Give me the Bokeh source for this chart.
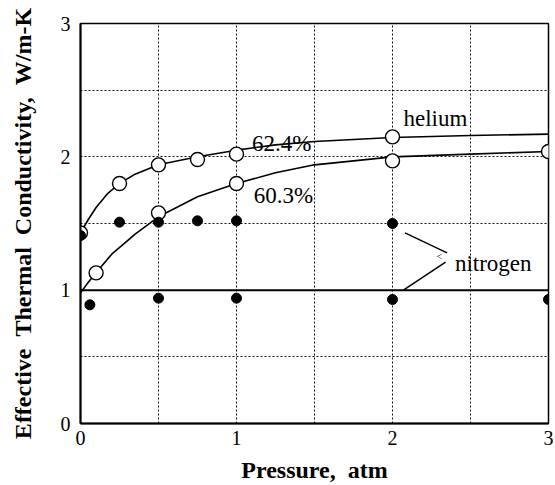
from bokeh.plotting import figure
from bokeh.models import FixedTicker, Span, Range1d
from bokeh.core.properties import value
from bokeh.embed import file_html
from bokeh.resources import INLINE

# ---- data ----
he624_x = [0.0, 0.25, 0.5, 0.75, 1.0, 2.0]
he624_y = [1.43, 1.80, 1.94, 1.98, 2.02, 2.15]
he603_x = [0.1, 0.5, 1.0, 2.0, 3.0]
he603_y = [1.13, 1.58, 1.80, 1.97, 2.04]

n2_hi_x = [0.0, 0.25, 0.5, 0.75, 1.0, 2.0]
n2_hi_y = [1.41, 1.51, 1.51, 1.52, 1.52, 1.50]
n2_lo_x = [0.06, 0.5, 1.0, 2.0, 3.0]
n2_lo_y = [0.89, 0.94, 0.94, 0.93, 0.93]

fit624_x = [0.0, 0.05, 0.1, 0.17, 0.25, 0.35, 0.5, 0.75, 1.0, 1.25, 1.5, 2.0, 2.5, 3.0]
fit624_y = [1.43, 1.53, 1.62, 1.72, 1.80, 1.87, 1.94, 2.00, 2.05, 2.09, 2.115, 2.145, 2.16, 2.17]
fit603_x = [0.0, 0.05, 0.1, 0.2, 0.3, 0.35, 0.5, 0.75, 1.0, 1.25, 1.5, 2.0, 2.5, 3.0]
fit603_y = [0.98, 1.06, 1.13, 1.27, 1.37, 1.42, 1.55, 1.70, 1.80, 1.88, 1.94, 2.00, 2.02, 2.04]

x_ticks = [0, 1, 2, 3]
y_ticks = [0, 1, 2, 3]
grid_ticks = [0.5, 1.0, 1.5, 2.0, 2.5]

labels_text = ["62.4%", "60.3%", "helium", "nitrogen"]
labels_x = [1.10, 1.11, 2.07, 2.40]
labels_y = [2.10, 1.71, 2.29, 1.20]

leader_xs = [[2.08, 2.35], [2.07, 2.34]]
leader_ys = [[1.43, 1.28], [1.00, 1.21]]

SERIF = "Liberation Serif"
SP = "\u00a0\u00a0"

p = figure(width=555, height=485, output_backend="svg", toolbar_location=None,
           x_range=Range1d(0, 3), y_range=Range1d(0, 3), title=None,
           min_border_left=80, min_border_right=7, min_border_top=23, min_border_bottom=62)
p.background_fill_color = "white"
p.border_fill_color = "white"
p.outline_line_color = "black"
p.outline_line_width = 1.5

for ax in (p.xaxis[0], p.yaxis[0]):
    ax.ticker = FixedTicker(ticks=x_ticks)
    ax.major_tick_out = 0
    ax.major_tick_in = 0
    ax.minor_tick_out = 0
    ax.minor_tick_in = 0
    ax.axis_line_color = "black"
    ax.axis_line_width = 2
    ax.major_label_text_font = SERIF
    ax.major_label_text_font_size = "20px"
    ax.major_label_text_color = "black"
    ax.axis_label_text_font = SERIF
    ax.axis_label_text_font_style = "bold"
    ax.axis_label_text_color = "black"
p.yaxis[0].ticker = FixedTicker(ticks=y_ticks)

p.xaxis.axis_label = "Pressure," + SP + "atm"
p.xaxis.axis_label_text_font_size = "24px"
p.xaxis.major_label_standoff = 7
p.xaxis.axis_label_standoff = 9
p.yaxis.axis_label = "Effective" + SP + "Thermal" + SP + "Conductivity," + SP + "W/m-K"
p.yaxis.axis_label_text_font_size = "24px"
p.yaxis.major_label_standoff = 10
p.yaxis.axis_label_standoff = 22

for g in (p.xgrid[0], p.ygrid[0]):
    g.ticker = FixedTicker(ticks=grid_ticks)
    g.grid_line_color = "#111111"
    g.grid_line_dash = "2 2"
    g.grid_line_width = 1

p.add_layout(Span(location=1.0, dimension="width", line_color="black", line_width=2))

p.line(fit624_x, fit624_y, line_color="black", line_width=1.6)
p.line(fit603_x, fit603_y, line_color="black", line_width=1.6)

p.scatter(he624_x, he624_y, size=14, fill_color="white", line_color="black", line_width=1.4)
p.scatter(he603_x, he603_y, size=14, fill_color="white", line_color="black", line_width=1.4)
p.scatter(n2_hi_x, n2_hi_y, size=10, fill_color="black", line_color="black")
p.scatter(n2_lo_x, n2_lo_y, size=10, fill_color="black", line_color="black")

p.multi_line(leader_xs, leader_ys, line_color="black", line_width=1.5)
p.text([2.30], [1.25], text=["<"], text_font=value(SERIF), text_font_size="10px",
       text_align="center", text_baseline="middle", text_color="black")

p.text(labels_x, labels_y, text=labels_text, text_font=value(SERIF), text_font_size="23px",
       text_baseline="alphabetic", text_color="black")

open("out.html", "w").write(file_html(p, INLINE))
